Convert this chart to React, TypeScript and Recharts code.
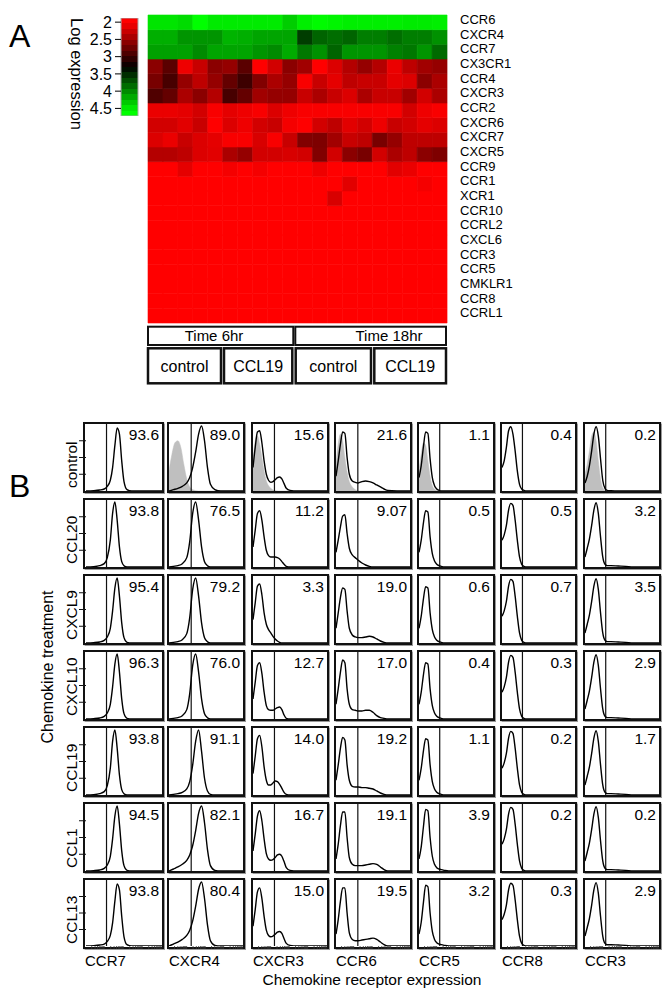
import React from 'react';
import { BarChart, Bar, XAxis, YAxis, Cell, ComposedChart, Line, Area, ReferenceLine } from 'recharts';

const FONT = '"Liberation Sans", Arial, Helvetica, sans-serif';

// ---------------- Panel A data ----------------
const genes = ['CCR6', 'CXCR4', 'CCR7', 'CX3CR1', 'CCR4', 'CXCR3', 'CCR2', 'CXCR6', 'CXCR7', 'CXCR5', 'CCR9', 'CCR1', 'XCR1', 'CCR10', 'CCRL2', 'CXCL6', 'CCR3', 'CCR5', 'CMKLR1', 'CCR8', 'CCRL1'];
const samples = [
  '6h-ctl-1', '6h-ctl-2', '6h-ctl-3', '6h-ctl-4', '6h-ctl-5',
  '6h-CCL19-1', '6h-CCL19-2', '6h-CCL19-3', '6h-CCL19-4', '6h-CCL19-5',
  '18h-ctl-1', '18h-ctl-2', '18h-ctl-3', '18h-ctl-4', '18h-ctl-5',
  '18h-CCL19-1', '18h-CCL19-2', '18h-CCL19-3', '18h-CCL19-4', '18h-CCL19-5',
];
const timeGroups = ['Time 6hr', 'Time 18hr'];
const treatmentGroups = ['control', 'CCL19', 'control', 'CCL19'];
const colorbarTicks = [2, 2.5, 3, 3.5, 4, 4.5];
const colorbarRange = [1.88, 4.72];

// log expression, one row per gene (top to bottom), one value per sample
const expression: number[][] = [
  [4.47, 4.47, 4.42, 4.6, 4.5, 4.5, 4.5, 4.5, 4.5, 4.35, 4.52, 4.58, 4.55, 4.52, 4.52, 4.52, 4.52, 4.5, 4.5, 4.52],
  [4.19, 4.19, 4.06, 4.06, 4.06, 4.22, 4.19, 4.14, 4.14, 4.14, 3.61, 3.81, 3.86, 3.81, 3.94, 3.94, 3.86, 3.94, 3.94, 4.04],
  [4.12, 4.12, 4.12, 4.01, 4.14, 4.14, 4.14, 4.06, 4.01, 4.17, 3.91, 4.04, 3.81, 4.06, 4.06, 4.06, 3.96, 3.91, 4.06, 3.84],
  [2.59, 2.84, 2.08, 2.28, 2.59, 2.54, 2.84, 2.0, 2.23, 2.59, 2.48, 2.0, 2.18, 2.38, 2.54, 2.38, 2.1, 2.33, 2.48, 2.54],
  [2.69, 2.94, 2.54, 2.33, 2.54, 2.79, 2.99, 2.64, 2.43, 2.54, 2.03, 2.28, 2.13, 2.33, 2.28, 2.28, 2.13, 2.18, 2.59, 2.43],
  [2.89, 2.79, 2.43, 2.59, 2.38, 2.94, 2.79, 2.48, 2.54, 2.54, 2.28, 2.43, 2.28, 2.18, 2.43, 2.28, 2.28, 2.48, 2.23, 2.43],
  [2.1, 2.1, 2.13, 2.23, 2.03, 2.13, 2.08, 2.03, 2.18, 2.08, 2.03, 2.03, 2.03, 2.03, 2.03, 2.03, 2.03, 2.23, 2.08, 2.03],
  [2.23, 2.23, 2.15, 2.28, 2.0, 2.18, 2.08, 2.23, 2.28, 2.05, 2.0, 2.23, 2.33, 2.15, 2.23, 2.08, 2.28, 2.23, 2.13, 2.18],
  [2.18, 2.1, 2.28, 2.18, 2.13, 2.03, 2.03, 2.2, 2.03, 2.28, 2.64, 2.66, 2.48, 2.28, 2.33, 2.69, 2.54, 2.33, 2.33, 2.33],
  [2.38, 2.38, 2.33, 2.18, 2.15, 2.43, 2.54, 2.23, 2.23, 2.2, 2.23, 2.64, 2.23, 2.59, 2.69, 2.23, 2.43, 2.33, 2.59, 2.66],
  [2.0, 2.0, 2.13, 2.0, 2.0, 2.05, 2.0, 2.05, 2.0, 2.0, 2.0, 2.08, 2.0, 2.0, 2.0, 2.0, 2.15, 2.1, 2.0, 2.0],
  [2.0, 2.0, 2.0, 2.0, 2.0, 2.0, 2.0, 2.0, 2.0, 2.0, 2.0, 2.0, 2.0, 2.15, 2.0, 2.0, 2.0, 2.0, 2.05, 2.0],
  [2.0, 2.0, 2.0, 2.0, 2.0, 2.0, 2.0, 2.0, 2.0, 2.0, 2.0, 2.0, 2.2, 2.0, 2.0, 2.0, 2.0, 2.0, 2.0, 2.0],
  [2.0, 2.0, 2.0, 2.0, 2.0, 2.0, 2.0, 2.0, 2.0, 2.0, 2.0, 2.0, 2.0, 2.0, 2.0, 2.0, 2.0, 2.0, 2.0, 2.0],
  [2.0, 2.0, 2.0, 2.0, 2.0, 2.0, 2.0, 2.0, 2.0, 2.0, 2.0, 2.0, 2.0, 2.0, 2.0, 2.0, 2.0, 2.0, 2.0, 2.0],
  [2.0, 2.0, 2.0, 2.0, 2.0, 2.0, 2.0, 2.0, 2.0, 2.0, 2.0, 2.0, 2.0, 2.0, 2.0, 2.0, 2.0, 2.0, 2.0, 2.0],
  [2.0, 2.0, 2.0, 2.0, 2.0, 2.0, 2.0, 2.0, 2.0, 2.0, 2.0, 2.0, 2.0, 2.0, 2.0, 2.0, 2.0, 2.0, 2.0, 2.0],
  [2.0, 2.0, 2.0, 2.0, 2.0, 2.0, 2.0, 2.0, 2.0, 2.0, 2.0, 2.0, 2.0, 2.0, 2.0, 2.0, 2.0, 2.0, 2.0, 2.0],
  [2.0, 2.0, 2.0, 2.0, 2.0, 2.0, 2.0, 2.0, 2.0, 2.0, 2.0, 2.0, 2.0, 2.0, 2.0, 2.0, 2.0, 2.0, 2.0, 2.0],
  [2.0, 2.0, 2.0, 2.0, 2.0, 2.0, 2.0, 2.0, 2.0, 2.0, 2.0, 2.0, 2.0, 2.0, 2.0, 2.0, 2.0, 2.0, 2.0, 2.0],
  [2.0, 2.0, 2.0, 2.0, 2.0, 2.0, 2.0, 2.0, 2.0, 2.0, 2.0, 2.0, 2.0, 2.0, 2.0, 2.0, 2.0, 2.0, 2.0, 2.0],
];

// ---------------- Panel B data ----------------
const receptors = ['CCR7', 'CXCR4', 'CXCR3', 'CCR6', 'CCR5', 'CCR8', 'CCR3'];
const treatments = ['control', 'CCL20', 'CXCL9', 'CXCL10', 'CCL19', 'CCL1', 'CCL13'];
const pctControl = ['93.6', '89.0', '15.6', '21.6', '1.1', '0.4', '0.2'];
const pctCCL20 = ['93.8', '76.5', '11.2', '9.07', '0.5', '0.5', '3.2'];
const pctCXCL9 = ['95.4', '79.2', '3.3', '19.0', '0.6', '0.7', '3.5'];
const pctCXCL10 = ['96.3', '76.0', '12.7', '17.0', '0.4', '0.3', '2.9'];
const pctCCL19 = ['93.8', '91.1', '14.0', '19.2', '1.1', '0.2', '1.7'];
const pctCCL1 = ['94.5', '82.1', '16.7', '19.1', '3.9', '0.2', '0.2'];
const pctCCL13 = ['93.8', '80.4', '15.0', '19.5', '3.2', '0.3', '2.9'];
const percentRows = [pctControl, pctCCL20, pctCXCL9, pctCXCL10, pctCCL19, pctCCL1, pctCCL13];
const gateChannels = [27, 30, 29, 29.5, 28, 28, 28];

// histogram curves (channel 0-100, counts as % of max)
const ccr7Channel = [0, 10, 18, 24, 28, 32, 35, 38, 41, 44, 47, 50, 54, 60, 100];
const ccr7Control = [0, 0.5, 1.5, 3, 7, 16, 35, 68, 94, 85, 45, 14, 2, 0, 0];
const ccr7Peak38 = [0, 0.5, 2, 5, 14, 40, 80, 97, 70, 30, 8, 2, 0, 0, 0];
const ccr7Peak41 = [0, 0.5, 1.5, 4, 9, 22, 48, 82, 97, 70, 30, 8, 1, 0, 0];

const cxcr4Channel = [0, 6, 12, 18, 24, 28, 32, 36, 40, 44, 48, 52, 56, 62, 70, 100];
const cxcr4Control = [0, 2, 4, 7, 12, 20, 35, 58, 85, 97, 75, 35, 10, 2, 0, 0];
const cxcr4Peak36 = [0, 1, 2, 5, 14, 38, 80, 97, 70, 30, 8, 2, 0, 0, 0, 0];
const cxcr4Peak41 = [0, 1, 2, 4, 9, 20, 45, 80, 97, 65, 25, 6, 1, 0, 0, 0];
const cxcr4Shoulder = [0, 3, 6, 10, 16, 24, 38, 60, 86, 97, 72, 32, 8, 1, 0, 0];

const cxcr3Channel = [0, 3, 6, 9, 12, 15, 18, 21, 24, 27, 30, 33, 36, 39, 42, 45, 50, 60, 100];
const cxcr3Control = [35, 65, 88, 90, 72, 45, 25, 16, 13, 14, 17, 20, 21, 18, 11, 4, 1, 0, 0];
const cxcr3CCL20 = [30, 55, 80, 84, 70, 45, 25, 17, 15, 15, 15, 14, 12, 8, 4, 1, 0, 0, 0];
const cxcr3CXCL9 = [35, 60, 85, 88, 72, 45, 28, 20, 15, 10, 6, 3, 1, 0, 0, 0, 0, 0, 0];
const cxcr3CXCL10 = [30, 55, 80, 84, 68, 40, 20, 14, 13, 13, 15, 17, 18, 14, 6, 1, 0, 0, 0];
const cxcr3CCL19 = [32, 58, 84, 89, 72, 42, 22, 15, 15, 18, 21, 20, 16, 10, 4, 1, 0, 0, 0];
const cxcr3CCL1 = [30, 55, 82, 90, 75, 48, 26, 18, 16, 17, 20, 24, 25, 22, 14, 5, 1, 0, 0];
const cxcr3CCL13 = [30, 55, 82, 88, 72, 45, 24, 16, 14, 15, 18, 21, 22, 19, 11, 4, 1, 0, 0];

const ccr6Channel = [0, 3, 6, 9, 12, 15, 18, 22, 26, 30, 35, 40, 45, 50, 55, 60, 65, 70, 100];
const ccr6Control = [22, 45, 70, 88, 86, 50, 25, 15, 13, 12, 14, 15, 14, 12, 9, 6, 3, 1, 0];
const ccr6CCL20 = [22, 40, 60, 76, 78, 50, 28, 18, 14, 10, 6, 3, 1, 0, 0, 0, 0, 0, 0];
const ccr6CXCL9 = [22, 45, 68, 82, 80, 48, 22, 12, 9, 8, 8, 9, 10, 9, 6, 3, 1, 0, 0];
const ccr6CXCL10 = [22, 45, 70, 88, 84, 45, 22, 14, 13, 12, 12, 13, 13, 10, 5, 2, 1, 0, 0];
const ccr6CCL19 = [22, 45, 70, 86, 82, 45, 22, 13, 12, 12, 11, 11, 10, 9, 6, 3, 1, 0, 0];
const ccr6CCL1 = [18, 40, 68, 88, 88, 50, 20, 10, 8, 8, 8, 9, 10, 11, 10, 6, 2, 0, 0];
const ccr6CCL13 = [18, 40, 68, 88, 88, 50, 20, 10, 8, 8, 9, 10, 11, 12, 10, 6, 2, 0, 0];

const ccr5Channel = [0, 3, 6, 9, 12, 15, 18, 21, 24, 27, 30, 34, 40, 100];
const ccr5Control = [20, 38, 66, 88, 86, 48, 20, 8, 3, 1, 0, 0, 0, 0];
const ccr5Base = [22, 40, 66, 84, 82, 45, 20, 9, 4, 2, 1, 0, 0, 0];
const ccr5Tall = [18, 36, 66, 92, 90, 50, 22, 10, 5, 3, 2, 1, 0, 0];

const ccr8Channel = [0, 3, 6, 9, 12, 15, 18, 21, 24, 27, 30, 34, 100];
const ccr8Control = [35, 45, 65, 90, 96, 85, 60, 30, 10, 3, 1, 0, 0];
const ccr8Base = [40, 48, 62, 85, 95, 92, 70, 40, 15, 4, 1, 0, 0];

const ccr3Channel = [0, 3, 6, 9, 12, 15, 18, 21, 24, 27, 30, 35, 45, 55, 65, 100];
const ccr3Control = [12, 22, 38, 60, 85, 96, 82, 48, 16, 4, 1, 0.5, 0, 0, 0, 0];
const ccr3Base = [15, 28, 42, 62, 85, 96, 80, 45, 15, 4, 2, 2, 1.5, 1, 0, 0];

const channels = [ccr7Channel, cxcr4Channel, cxcr3Channel, ccr6Channel, ccr5Channel, ccr8Channel, ccr3Channel];
// counts[receptor][treatment]
const counts = [
  [ccr7Control, ccr7Peak38, ccr7Peak41, ccr7Peak41, ccr7Peak38, ccr7Peak41, ccr7Control],
  [cxcr4Control, cxcr4Peak36, cxcr4Peak36, cxcr4Peak36, cxcr4Peak41, cxcr4Shoulder, cxcr4Shoulder],
  [cxcr3Control, cxcr3CCL20, cxcr3CXCL9, cxcr3CXCL10, cxcr3CCL19, cxcr3CCL1, cxcr3CCL13],
  [ccr6Control, ccr6CCL20, ccr6CXCL9, ccr6CXCL10, ccr6CCL19, ccr6CCL1, ccr6CCL13],
  [ccr5Control, ccr5Base, ccr5Base, ccr5Base, ccr5Base, ccr5Tall, ccr5Tall],
  [ccr8Control, ccr8Base, ccr8Base, ccr8Base, ccr8Base, ccr8Base, ccr8Base],
  [ccr3Control, ccr3Base, ccr3Base, ccr3Base, ccr3Base, ccr3Base, ccr3Base],
];

// isotype controls (grey fills, control row only)
const cxcr4IsoChannel = [0, 4, 8, 12, 16, 20, 24, 28, 32, 40, 100];
const cxcr4IsoCounts = [30, 55, 72, 75, 65, 40, 18, 6, 2, 0, 0];
const cxcr3IsoChannel = [0, 3, 6, 9, 12, 15, 18, 21, 24, 28, 34, 100];
const cxcr3IsoCounts = [45, 75, 82, 70, 50, 30, 15, 8, 4, 1, 0, 0];
const ccr6IsoChannel = [0, 3, 6, 9, 12, 15, 18, 22, 26, 32, 100];
const ccr6IsoCounts = [40, 70, 85, 75, 50, 28, 14, 6, 2, 0, 0];
const ccr5IsoChannel = [0, 3, 6, 9, 12, 15, 18, 22, 28, 100];
const ccr5IsoCounts = [30, 55, 72, 68, 45, 22, 8, 2, 0, 0];
const ccr3IsoChannel = [0, 3, 6, 9, 12, 15, 18, 21, 24, 28, 34, 100];
const ccr3IsoCounts = [25, 40, 60, 82, 88, 75, 45, 18, 5, 1, 0, 0];
const isoChannels = [null, cxcr4IsoChannel, cxcr3IsoChannel, ccr6IsoChannel, ccr5IsoChannel, null, ccr3IsoChannel];
const isoCounts = [null, cxcr4IsoCounts, cxcr3IsoCounts, ccr6IsoCounts, ccr5IsoCounts, null, ccr3IsoCounts];

// ---------------- helpers ----------------
function heatColor(v: number): string {
  if (v <= 3.3) {
    const t = Math.max(0, Math.min(1, (3.3 - v) / 1.3));
    return `rgb(${Math.round(255 * t)},0,0)`;
  }
  const t = Math.max(0, Math.min(1, (v - 3.3) / 1.3));
  return `rgb(0,${Math.round(255 * t)},0)`;
}

const heatData = samples.map((s) => {
  const o: Record<string, any> = { sample: s };
  genes.forEach((g) => { o[g] = 1; });
  return o;
});

const geneTicks = genes.map((_, i) => genes.length - i - 0.5);

function GeneTick(props: any) {
  const { x, y, payload } = props;
  const name = genes[Math.round(genes.length - 0.5 - payload.value)];
  return (
    <text x={x} y={y - 3} dy="0.355em" fontSize={13} fill="#000" fontFamily={FONT} textAnchor="start">{name}</text>
  );
}

function Heatmap() {
  const bottomUp = genes.map((g, i) => ({ g, i })).reverse();
  return (
    <BarChart width={299 + 90} height={308} data={heatData} margin={{ top: 0, right: 0, bottom: 0, left: 0 }} barCategoryGap={0} barGap={0}>
      <XAxis dataKey="sample" hide />
      <YAxis
        orientation="right"
        type="number"
        domain={[0, genes.length]}
        ticks={geneTicks}
        interval={0}
        width={90}
        tickLine={false}
        axisLine={false}
        tickMargin={7}
        tick={<GeneTick />}
      />
      {bottomUp.map(({ g, i }) => (
        <Bar key={g} dataKey={g} stackId="h" isAnimationActive={false}>
          {samples.map((s, j) => {
            const c = heatColor(expression[i][j]);
            return <Cell key={s} fill={c} stroke={c} strokeWidth={0.6} />;
          })}
        </Bar>
      ))}
    </BarChart>
  );
}

function Colorbar() {
  const N = 18;
  const stops: React.ReactNode[] = [];
  for (let k = 0; k < N; k++) {
    const v = colorbarRange[0] + ((k + 0.5) / N) * (colorbarRange[1] - colorbarRange[0]);
    const c = heatColor(v);
    stops.push(<stop key={`a${k}`} offset={k / N} stopColor={c} />);
    stops.push(<stop key={`b${k}`} offset={(k + 1) / N} stopColor={c} />);
  }
  const data = [{ name: 'scale', span: colorbarRange }];
  return (
    <BarChart width={57} height={98} data={data} margin={{ top: 0, right: 0, bottom: 0, left: 0 }} barCategoryGap={0}>
      <defs>
        <linearGradient id="cbGrad" x1="0" y1="0" x2="0" y2="1">{stops}</linearGradient>
      </defs>
      <XAxis dataKey="name" hide />
      <YAxis
        type="number"
        domain={colorbarRange}
        reversed
        ticks={colorbarTicks}
        interval={0}
        width={40}
        axisLine={false}
        tickSize={6}
        tickMargin={3}
        tickLine={{ stroke: '#000' }}
        tick={{ fontSize: 16, fill: '#000', fontFamily: FONT }}
        allowDataOverflow
      />
      <Bar dataKey="span" fill="url(#cbGrad)" stroke="#aaa" strokeWidth={1} isAnimationActive={false} />
    </BarChart>
  );
}

const colLeft = [83, 167, 251, 334, 417, 500, 583];
const colWidth = [81, 78, 78, 78, 78, 77, 78];
const rowTop = [422, 498, 574, 650, 726, 802, 878];
const rowH = 71;

function Hist({ r, c }: { r: number; c: number }) {
  const xs = channels[c];
  const ys = counts[c][r];
  const data = xs.map((x, k) => ({ x, y: ys[k] }));
  const isoX = r === 0 ? isoChannels[c] : null;
  const isoY = r === 0 ? isoCounts[c] : null;
  const iso = isoX && isoY ? isoX.map((x, k) => ({ x, y: isoY[k] })) : null;
  const W = colWidth[c];
  const first = c === 0;
  const last = r === treatments.length - 1;
  const minorTicks: number[] = [];
  for (let d = 0; d < 4; d++) for (let k = 2; k <= 9; k++) minorTicks.push(d * 25 + 25 * Math.log10(k));
  return (
    <div
      style={{
        position: 'absolute', left: colLeft[c], top: rowTop[r], width: W, height: rowH,
        border: '2px solid #111', boxSizing: 'border-box', boxShadow: '0 0 1px 0.5px #999',
      }}
    >
      <ComposedChart width={W - 4} height={rowH - 4} margin={{ top: 0, right: 0, bottom: 0, left: 0 }}>
        <XAxis
          type="number" dataKey="x" domain={[0, 100]} allowDataOverflow
          hide={!last} ticks={minorTicks} interval={0} height={1}
          axisLine={false} tickSize={3} tickLine={{ stroke: '#333', strokeWidth: 0.8 }} tickFormatter={() => ''}
        />
        <YAxis
          type="number" domain={[0, 100]} allowDataOverflow
          hide={!first} ticks={[25, 50, 75]} interval={0} width={1}
          axisLine={false} tickSize={7} tickLine={{ stroke: '#111', strokeWidth: 1 }} tickFormatter={() => ''}
        />
        {iso && (
          <Area data={iso} dataKey="y" type="monotone" fill="#bfbfbf" fillOpacity={1} stroke="#bfbfbf" strokeWidth={0.5} isAnimationActive={false} />
        )}
        <ReferenceLine x={gateChannels[c]} stroke="#111" strokeWidth={1.2} />
        <Line data={data} dataKey="y" type="monotone" stroke="#000" strokeWidth={1.4} dot={false} isAnimationActive={false} />
      </ComposedChart>
      <div
        style={{
          position: 'absolute', right: 3, top: 3, fontSize: 15.5, lineHeight: '16px',
          fontFamily: FONT, color: '#000',
        }}
      >
        {percentRows[r][c]}
      </div>
    </div>
  );
}

export default function App() {
  const tr6 = [148, 293.3];
  const tr18 = [295.3, 446];
  const trtBoxes = [[148, 221], [224, 292.3], [295.7, 371], [374.3, 446]];
  return (
    <div style={{ position: 'absolute', left: 0, top: 0, width: 667, height: 988, background: '#fff', fontFamily: FONT }}>
      <style>{'.recharts-surface{overflow:visible}'}</style>
      <svg width={667} height={988} style={{ position: 'absolute', left: 0, top: 0 }} fontFamily={FONT}>
        <text x={9} y={47} fontSize={32} fill="#000">A</text>
        <text x={9} y={497} fontSize={32} fill="#000">B</text>
        <text x={71} y={74} fontSize={16.5} fill="#000" textAnchor="middle" transform="rotate(90 71 74)">Log expression</text>

        {/* time boxes */}
        <rect x={tr6[0]} y={326.7} width={tr6[1] - tr6[0]} height={18.3} fill="none" stroke="#111" strokeWidth={2} />
        <rect x={tr18[0]} y={326.7} width={tr18[1] - tr18[0]} height={18.3} fill="none" stroke="#111" strokeWidth={2} />
        <text x={214} y={341} fontSize={15} textAnchor="middle" fill="#000">{timeGroups[0]}</text>
        <text x={389} y={341} fontSize={15} textAnchor="middle" fill="#000">{timeGroups[1]}</text>
        {trtBoxes.map((b, i) => (
          <g key={i}>
            <rect x={b[0]} y={348.3} width={b[1] - b[0]} height={35} fill="none" stroke="#111" strokeWidth={2.5} />
            <text x={(b[0] + b[1]) / 2} y={372} fontSize={16} textAnchor="middle" fill="#000">{treatmentGroups[i]}</text>
          </g>
        ))}

        {/* panel B labels */}
        {treatments.map((t, r) => {
          const y = rowTop[r] + rowH - 5;
          return (
            <text key={t} x={77} y={y} fontSize={15.5} fill="#000" transform={`rotate(-90 77 ${y})`}>{t}</text>
          );
        })}
        <text x={53} y={667} fontSize={16} fill="#000" textAnchor="middle" transform="rotate(-90 53 667)">Chemokine treatment</text>
        {receptors.map((rc, c) => (
          <text key={rc} x={colLeft[c] + 2} y={966} fontSize={15} fill="#000">{rc}</text>
        ))}
        <text x={372} y={985} fontSize={15.5} fill="#000" textAnchor="middle">Chemokine receptor expression</text>
      </svg>

      <div style={{ position: 'absolute', left: 81, top: 18 }}>
        <Colorbar />
      </div>
      <div style={{ position: 'absolute', left: 148, top: 15 }}>
        <Heatmap />
      </div>
      {treatments.map((t, r) => receptors.map((rc, c) => <Hist key={`${t}-${rc}`} r={r} c={c} />))}
    </div>
  );
}
